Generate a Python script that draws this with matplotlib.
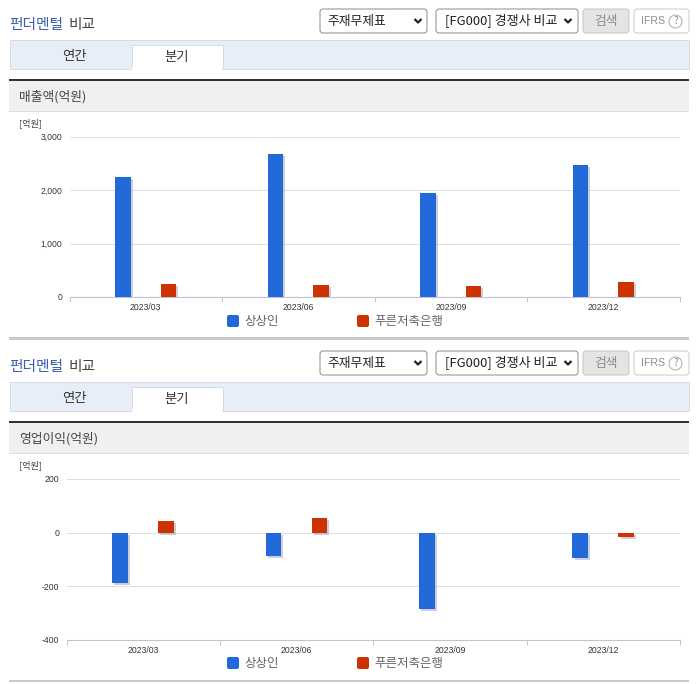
import matplotlib
matplotlib.use('Agg')
import numpy as np
import matplotlib.pyplot as plt
import matplotlib.patheffects as pe
from matplotlib.patches import Rectangle, FancyBboxPatch, Circle

plt.rcParams['font.family'] = ['Noto Sans CJK KR', 'DejaVu Sans']

# data
quarters = ['2023/03', '2023/06', '2023/09', '2023/12']
series_names = ['상상인', '푸른저축은행']
sales_a = [2250, 2670, 1945, 2460]
sales_b = [250, 230, 210, 285]
profit_a = [-188, -88, -286, -96]
profit_b = [44, 54, 0, -17]
sales_ticks = [0, 1000, 2000, 3000]
profit_ticks = [-400, -200, 0, 200]
sales_title = '매출액(억원)'
profit_title = '영업이익(억원)'

BLUE = '#2168d8'
RED = '#cc3300'
W, H = 696, 684

fig = plt.figure(figsize=(W / 100, H / 100), dpi=100)
bg = fig.add_axes([0, 0, 1, 1])
bg.set_xlim(0, W)
bg.set_ylim(H, 0)
bg.axis('off')


def box(x0, y0, x1, y1, face, edge='none', lw=0.7):
    bg.add_patch(Rectangle((x0, y0), x1 - x0, y1 - y0, facecolor=face, edgecolor=edge, linewidth=lw))


def rbox(x0, y0, x1, y1, face, edge):
    bg.add_patch(FancyBboxPatch((x0 + 3, y0 + 3), x1 - x0 - 6, y1 - y0 - 6, boxstyle='round,pad=3',
                                facecolor=face, edgecolor=edge, linewidth=0.7))


def chevron(x, y):
    bg.plot([x - 3.5, x, x + 3.5], [y - 2, y + 1.5, y - 2], color='#222222', lw=1.6, solid_capstyle='butt')


def panel(dy, title, legend_y, end_y):
    bg.text(9, 25 + dy, '펀더멘털', color='#3a5fb0', fontsize=10.6, fontweight='medium', va='center')
    bg.text(69, 25 + dy, '비교', color='#444444', fontsize=10.6, fontweight='medium', va='center')

    rbox(320, 9 + dy, 427, 33 + dy, 'white', '#8a8a8a')
    bg.text(327, 21.5 + dy, '주재무제표', color='#222222', fontsize=9.2, va='center')
    chevron(418, 21 + dy)
    rbox(436, 9 + dy, 578, 33 + dy, 'white', '#8a8a8a')
    bg.text(445, 20.5 + dy, '[FG000] 경쟁사 비교', color='#222222', fontsize=9.4, va='center')
    chevron(568, 21 + dy)
    rbox(583, 9 + dy, 629, 33 + dy, '#e4e4e4', '#c4c4c4')
    bg.text(606, 21 + dy, '검색', color='#8c8c8c', fontsize=9.2, va='center', ha='center')
    rbox(634, 9 + dy, 689, 33 + dy, 'white', '#c8c8c8')
    bg.text(641, 21 + dy, 'IFRS', color='#8c8c8c', fontsize=7.6, va='center', family='Liberation Sans')
    bg.add_patch(Circle((675.5, 21.5 + dy), 6.5, facecolor='white', edgecolor='#aaaaaa', linewidth=0.7))
    bg.text(675.5, 21.5 + dy, '?', color='#888888', fontsize=7, va='center', ha='center')

    box(9.5, 39.5 + dy, 688.5, 68.5 + dy, '#e8eef7', '#d5dce8')
    box(131.5, 44.5 + dy, 222.5, 69 + dy, 'white', '#d5dce8')
    box(132, 67 + dy, 222, 70 + dy, 'white')
    bg.text(74, 56 + dy, '연간', color='#333333', fontsize=9.6, va='center', ha='center')
    bg.text(177, 57 + dy, '분기', color='#333333', fontsize=9.6, va='center', ha='center')

    box(9, 81 + dy, 689, 111 + dy, '#f0f0f0')
    box(9, 110.5 + dy, 689, 111.5 + dy, '#dddddd')
    box(9, 79 + dy, 689, 81 + dy, '#333333')
    bg.text(19, 97 + dy, title, color='#444444', fontsize=9.2, va='center')
    bg.text(19, 123.5 + dy, '[억원]', color='#444444', fontsize=6.6, va='center')

    # legend
    for x0, color, name in zip([227, 357], [BLUE, RED], series_names):
        bg.add_patch(FancyBboxPatch((x0 + 2, legend_y - 4), 8, 8, boxstyle='round,pad=2',
                                    facecolor=color, edgecolor='none'))
        bg.text(x0 + 17.5, legend_y + 0.5, name, color='#666666', fontsize=9.0, va='center')
    box(9, end_y, 689, end_y + 2.5, '#c9c9c9')


def chart(left, right, top, bottom, a, b, ticks):
    ax = fig.add_axes([left / W, 1 - bottom / H, (right - left) / W, (bottom - top) / H])
    ax.patch.set_alpha(0)
    x = np.arange(len(quarters))
    shadow = [pe.SimplePatchShadow(offset=(1.5, -1.5), shadow_rgbFace='#8c96b4', alpha=0.45), pe.Normal()]
    ax.bar(x - 0.15, a, 0.102, color=BLUE, path_effects=shadow, zorder=3)
    # a value of 0 has no bar in the original
    ax.bar(x[np.array(b) != 0] + 0.15, np.array(b)[np.array(b) != 0], 0.102, color=RED,
           path_effects=shadow, zorder=3)
    ax.set_xlim(-0.5, 3.5)
    ax.set_ylim(ticks[0], ticks[-1])
    ax.set_yticks(ticks)
    ax.set_yticklabels([f'{t:,}' for t in ticks], family='Liberation Sans', fontsize=6.2, color='#333333')
    ax.tick_params(axis='y', length=0, pad=5)
    ax.set_xticks(np.arange(-0.5, 4, 1))
    ax.set_xticklabels([])
    ax.tick_params(axis='x', which='major', length=3.5, color='#bcc6d2', width=0.7, direction='out')
    ax.set_xticks(x, minor=True)
    ax.set_xticklabels(quarters, minor=True, family='Liberation Sans', fontsize=6.2, color='#333333')
    ax.tick_params(axis='x', which='minor', length=0, pad=4.5)
    ax.grid(axis='y', color='#dedede', lw=0.7, zorder=0)
    ax.set_axisbelow(True)
    for s in ['top', 'left', 'right']:
        ax.spines[s].set_visible(False)
    ax.spines['bottom'].set_color('#bcc6d2')
    ax.spines['bottom'].set_linewidth(0.8)
    return ax


panel(0, sales_title, 321, 337)
panel(342, profit_title, 663, 679.5)
chart(69.5, 679.5, 136.5, 297, sales_a, sales_b, sales_ticks)
chart(66.5, 680, 479, 639.5, profit_a, profit_b, profit_ticks)

fig.savefig('out.png', dpi=100)
